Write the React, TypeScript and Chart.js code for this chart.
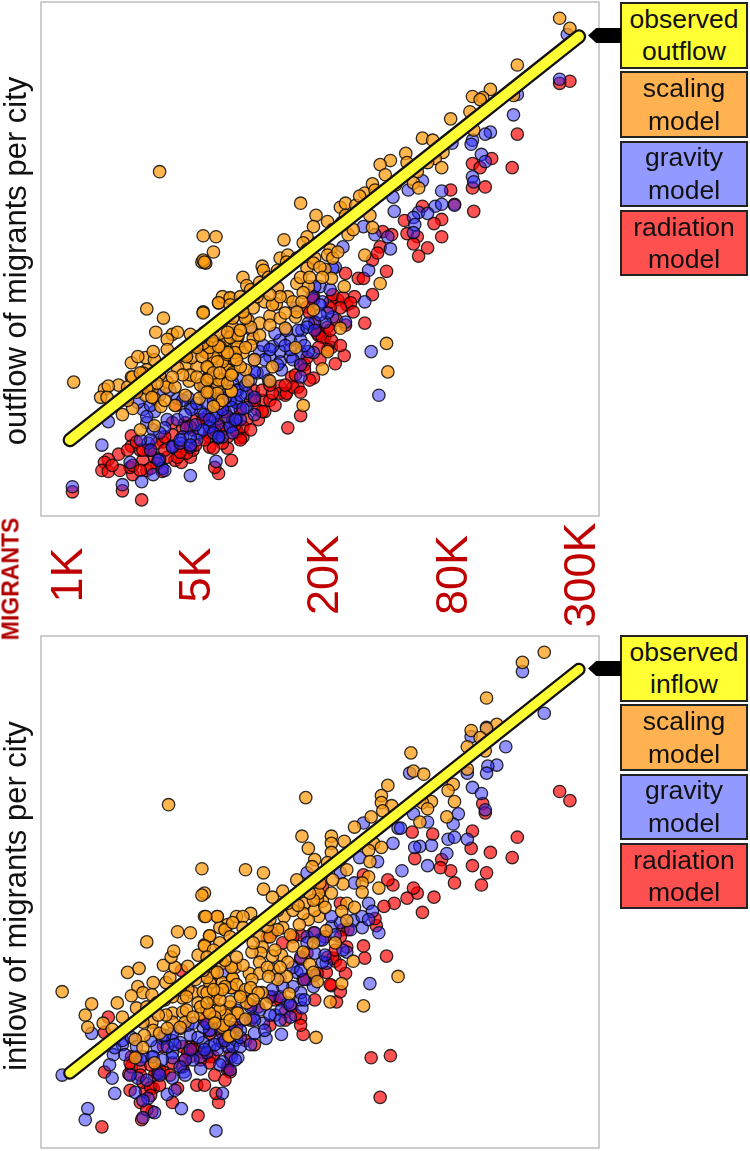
import React, { useEffect, useRef } from "react";
import { Chart, registerables } from "chart.js";

Chart.register(...registerables);

// x and y are read on the chart's own ladder: 100 units = one 4x step of migrants, 0 = the "1K" tick.
const tickValues = [0, 100, 200, 300, 400];
const tickLabels = ["1K", "5K", "20K", "80K", "300K"];
const observedDiagonal = [[3, 3], [400, 400]];

const outflowScaling = [[6,60],[63,132],[76,123],[70,109],[83,107],[87,109],[79,102],[97,107],[107,129],[106,178],[109,177],[119,138],[128,142],[122,144],[51,79],[62,84],[69,82],[68,90],[79,92],[56,85],[51,65],[41,57],[30,53],[33,56],[27,45],[32,45],[63,72],[60,69],[67,52],[79,60],[78,55],[85,55],[62,47],[69,44],[74,36],[52,34],[44,28],[69,17],[58,13],[94,77],[102,75],[98,84],[107,92],[87,74],[96,61],[112,65],[122,63],[129,51],[104,44],[119,39],[118,55],[115,83],[122,82],[122,92],[124,101],[133,95],[126,72],[130,108],[183,236],[195,224],[193,213],[204,218],[214,232],[218,236],[233,246],[239,255],[237,224],[220,205],[224,210],[170,200],[188,203],[185,197],[206,190],[204,185],[167,182],[173,185],[153,174],[154,170],[138,163],[141,155],[188,172],[194,182],[202,171],[207,162],[217,154],[180,157],[189,154],[185,148],[165,153],[173,144],[128,143],[119,138],[155,139],[164,137],[146,133],[193,131],[159,125],[179,124],[167,123],[151,118],[142,121],[171,113],[130,114],[134,104],[124,101],[146,103],[134,95],[122,91],[108,90],[179,94],[214,113],[204,90],[200,73],[250,98],[251,70],[245,157],[233,185],[239,212],[107,204],[117,203],[115,188],[107,180],[108,178],[107,128],[161,75],[159,61],[140,72],[142,61],[129,51],[119,39],[122,62],[112,65],[126,72],[122,80],[138,89],[115,85],[185,37],[73,267],[385,418],[393,408],[352,372],[317,341],[331,348],[325,340],[323,338],[349,342],[315,326],[300,319],[318,308],[278,300],[286,298],[265,285],[294,286],[288,280],[282,276],[293,271],[274,267],[271,256],[275,251],[266,276],[253,278],[245,274],[249,264],[257,254],[241,249],[226,234],[218,224],[229,243],[136,111],[144,96],[151,106],[159,116],[147,82],[132,82],[116,96],[108,101],[101,96],[93,87],[85,85],[77,77],[97,67],[105,57],[112,50],[93,47],[85,37],[77,42],[66,57],[58,54],[69,67],[48,42],
[112,104],[116,98],[120,108],[128,104],[110,89],[118,80],[126,87],[132,89],[134,106],[140,94],[144,114],[140,123],[120,95],[112,94],[107,98],[106,85],[111,74],[119,62],[130,69],[136,75],[161,136],[167,144],[159,146],[149,144],[177,139],[184,139],[180,129],[171,128],[138,129],[130,123],[122,121],[115,114],[108,109],[128,136],[136,144],[144,151],[151,158],[158,163],[165,170],[172,178],[180,182],[188,190],[196,197],[202,202],[208,210],[215,217],[193,177],[198,173],[183,163],[190,163],[200,163],[208,182],[212,188],[94,85],[102,94],[110,75],[115,69],[91,67],[83,65],[73,67],[71,59],[63,54],[67,45],[102,65],[110,62],[126,59],[120,69],[129,67],[133,82],[126,89],[119,95],[114,101],[106,104],[126,109],[136,111],[118,49],[122,42],[115,36],[110,50],[58,59],[55,50],[48,55],[52,65],[58,69],[72,72]];
const outflowGravity = [[28,-2],[5,-43],[44,-41],[59,-38],[97,-32],[33,21],[60,33],[69,31],[79,23],[63,20],[87,44],[97,35],[95,45],[107,59],[105,31],[118,18],[128,16],[133,40],[112,16],[104,10],[94,15],[97,-4],[83,-3],[64,0],[50,-19],[73,-16],[68,-31],[75,-25],[117,-18],[119,5],[136,65],[56,40],[151,90],[159,85],[167,90],[167,80],[149,69],[130,59],[114,59],[133,40],[141,35],[118,30],[112,16],[128,16],[184,111],[175,101],[183,101],[193,89],[179,133],[198,154],[206,151],[208,124],[202,119],[194,119],[189,118],[218,119],[200,139],[233,139],[238,90],[244,47],[236,170],[253,191],[251,203],[255,242],[256,228],[232,213],[241,205],[216,193],[183,65],[210,173],[385,358],[352,343],[349,323],[331,306],[327,304],[317,298],[316,294],[301,295],[324,284],[327,277],[317,262],[318,257],[278,258],[267,249],[293,248],[288,233],[293,235],[303,234],[275,227],[282,226],[271,222],[272,215],[271,207],[391,402],
[63,26],[77,15],[87,23],[98,33],[102,39],[91,42],[110,39],[115,26],[122,33],[129,35],[126,26],[133,23],[107,13],[102,3],[91,6],[83,-4],[89,0],[73,10],[68,13],[66,3],[72,-17],[115,10],[97,6],[122,6],[130,10],[133,52],[108,50],[115,42],[122,42],[111,65],[120,49],[108,55],[128,42],[122,33],[134,52],[141,49],[147,45],[144,62],[154,69],[155,82],[147,82],[161,95],[167,101],[145,111],[154,96],[168,72],[175,85],[183,89],[177,82],[189,90],[194,154],[192,144],[198,136],[204,128],[181,111],[188,114],[208,172],[172,111],[163,108],[136,23],[119,6],[138,34],
[66,37],[73,47],[81,52],[93,28],[101,18],[108,28],[116,52],[124,44],[136,47],[147,70],[158,62],[165,77],[175,92],[186,96],[194,111],[198,126],[183,77],[171,96],[159,92],[140,57],[89,3],[66,-7],[58,3],[77,-27],[97,-2],[112,23],[132,23],[147,28]];
const outflowRadiation = [[59,-56],[5,-48],[44,-47],[119,-30],[129,-17],[116,-24],[126,-5],[112,-4],[41,-11],[33,-16],[30,-19],[28,-27],[33,-28],[51,7],[51,-3],[52,-31],[50,-24],[60,-17],[63,-27],[64,-7],[76,1],[83,8],[93,20],[85,-17],[90,-19],[97,-14],[75,-28],[69,-14],[58,-7],[107,23],[86,37],[112,6],[99,13],[122,25],[136,5],[130,23],[173,15],[183,27],[138,6],[153,42],[171,47],[167,56],[181,55],[176,65],[193,64],[186,77],[210,78],[217,86],[202,105],[207,94],[197,106],[219,136],[225,144],[212,141],[218,167],[233,118],[239,146],[228,162],[232,162],[250,169],[239,180],[245,193],[247,208],[254,205],[243,187],[149,33],[146,52],[193,144],[188,134],[206,139],[196,111],[393,356],[385,354],[352,304],[348,271],[332,280],[317,275],[323,271],[327,252],[317,251],[300,249],[303,235],[318,228],[293,220],[287,216],[278,233],[264,219],[266,206],[274,203],[293,203],[271,196],[282,192],[275,184],
[66,-7],[71,0],[77,6],[83,-4],[71,-20],[79,-14],[52,-22],[55,1],[48,-7],[60,-7],[90,-4],[102,23],[97,16],[91,15],[110,26],[120,16],[126,6],[133,13],[122,0],[115,-5],[99,-7],[94,-10],[87,-14],[83,20],[107,23],[112,10],[122,13],[133,11],[141,23],[136,33],[144,42],[153,52],[159,42],[167,49],[172,49],[177,55],[183,77],[188,84],[196,108],[200,104],[207,101],[194,118],[204,114],[211,121],[190,128],[193,141],[208,146],[216,143],[222,138],[214,133],[206,133],[161,49],[138,16],
[136,3],[144,13],[150,23],[155,31],[163,37],[171,57],[179,67],[186,72],[183,50],[190,62],[198,82],[204,92],[214,96],[218,116],[224,129],[206,111],[197,94],[159,57],[153,31],[132,18],[124,31],[116,13],[108,3],[101,-2],[89,-9],[77,-7],[66,-25],[58,-27],[42,-27],[36,-22],[136,33],[147,42]];

const inflowScaling = [[-3,83],[20,71],[15,60],[17,48],[29,52],[40,72],[48,102],[57,106],[63,132],[87,142],[97,141],[108,157],[118,157],[56,88],[51,79],[44,58],[36,46],[60,82],[68,92],[78,92],[67,80],[81,97],[76,109],[85,107],[82,117],[84,123],[95,108],[103,119],[108,129],[112,138],[124,144],[126,149],[120,146],[133,157],[55,67],[67,53],[68,45],[61,40],[54,36],[73,42],[60,28],[54,18],[69,13],[83,62],[83,53],[91,77],[91,63],[78,60],[99,82],[103,72],[107,83],[113,92],[115,76],[116,67],[105,61],[93,53],[122,52],[125,60],[122,48],[128,39],[129,87],[130,96],[128,68],[122,92],[133,62],[136,80],[187,274],[184,236],[189,224],[251,286],[246,276],[246,269],[254,266],[247,261],[238,255],[225,245],[207,236],[207,229],[217,231],[207,220],[194,213],[192,206],[140,203],[154,200],[106,204],[180,193],[154,184],[169,182],[161,176],[108,180],[106,178],[240,229],[246,225],[236,222],[237,211],[236,196],[231,190],[231,181],[244,185],[216,189],[207,180],[200,172],[196,174],[186,170],[219,170],[225,166],[215,162],[219,153],[203,143],[197,157],[189,154],[182,149],[170,157],[169,146],[175,139],[144,160],[138,157],[118,157],[109,157],[124,144],[112,138],[108,128],[151,137],[153,127],[177,128],[193,131],[210,131],[224,113],[185,122],[168,119],[161,118],[152,121],[145,122],[173,112],[151,112],[190,110],[193,102],[162,105],[143,101],[132,107],[172,98],[165,95],[196,93],[215,91],[151,101],[130,96],[145,95],[129,87],[112,92],[153,82],[174,81],[141,72],[156,71],[115,76],[206,73],[232,69],[259,98],[134,62],[125,60],[140,56],[123,50],[127,39],[195,38],[80,267],[373,417],[356,407],[328,372],[336,346],[328,342],[316,340],[323,333],[313,324],[327,320],[313,302],[269,318],[271,300],[279,297],[302,287],[298,281],[285,270],[278,269],[282,263],[303,270],[297,255],[276,250],
[108,107],[115,102],[122,111],[138,109],[124,88],[110,82],[118,82],[128,73],[120,65],[110,65],[105,68],[133,90],[140,85],[144,87],[150,82],[136,78],[146,75],[116,58],[128,55],[157,107],[167,107],[158,98],[163,124],[146,131],[159,137],[165,144],[157,147],[149,151],[130,151],[138,146],[128,137],[120,131],[115,124],[110,117],[185,160],[194,163],[202,166],[177,163],[165,163],[159,154],[173,170],[181,168],[197,180],[193,173],[208,193],[198,190],[190,180],[183,183],[219,203],[214,213],[204,210],[94,65],[99,58],[112,62],[110,72],[120,75],[122,85],[115,85],[110,97],[118,102],[129,107],[124,114],[118,117],[133,117],[112,111],[107,104],[101,95],[95,85],[89,85],[83,78],[77,75],[71,72],[63,68],[72,60],[79,47],[89,48],[60,53],[94,78],[133,42],[116,52]];
const inflowGravity = [[-3,1],[20,42],[37,21],[36,-2],[38,-17],[17,-32],[15,-43],[117,-54],[90,-32],[79,-18],[69,-36],[54,-16],[64,-22],[83,-2],[56,-2],[60,-24],[60,-41],[44,31],[38,28],[83,23],[67,19],[83,18],[92,4],[105,7],[122,-17],[129,19],[122,14],[107,33],[112,45],[97,40],[103,38],[83,35],[75,37],[133,35],[122,102],[95,50],[134,18],[237,91],[168,41],[156,37],[147,42],[163,60],[184,67],[183,75],[112,45],[128,48],[146,58],[173,72],[193,88],[180,102],[203,111],[219,122],[207,147],[224,153],[231,146],[244,141],[231,157],[236,170],[239,162],[229,215],[243,211],[255,229],[259,244],[232,249],[225,190],[188,200],[214,200],[188,137],[198,134],[183,117],[167,97],[356,398],[373,357],[328,343],[316,334],[343,324],[336,306],[329,305],[328,298],[268,298],[313,298],[317,284],[324,278],[306,258],[302,248],[282,250],[271,258],[261,244],[298,233],[303,235],[285,227],[276,226],[272,225],[313,233],[297,219],[282,207],[262,202],[327,262],
[44,35],[51,38],[55,29],[60,19],[71,29],[79,29],[68,19],[75,16],[89,33],[105,19],[112,29],[120,35],[126,29],[107,48],[99,52],[89,47],[83,42],[130,29],[136,29],[118,26],[110,23],[99,16],[93,16],[89,9],[63,-4],[72,3],[120,11],[128,6],[136,38],[110,52],[120,48],[130,45],[138,55],[154,52],[168,65],[175,58],[183,82],[186,95],[177,88],[167,78],[159,78],[151,65],[200,112],[194,121],[214,151],[207,157],[200,134],[194,141],[188,131],[177,107],[183,104],[169,88],[161,85],[144,68],[133,65],[122,55],[216,124],[236,154],
[34,11],[46,21],[66,35],[77,40],[85,31],[97,26],[116,31],[124,35],[136,45],[147,55],[155,45],[167,55],[175,70],[186,75],[194,99],[202,119],[210,139],[222,144],[73,1],[93,1],[108,26],[132,16],[144,31],[159,60],[58,16],[50,1],[85,-14]];
const inflowRadiation = [[28,-50],[103,-39],[119,-26],[117,-17],[102,-9],[87,-12],[83,-26],[30,4],[49,2],[51,9],[68,-12],[62,-15],[58,-26],[59,-43],[67,-35],[76,4],[71,3],[33,58],[30,43],[90,104],[97,19],[97,29],[76,29],[126,6],[112,19],[51,19],[111,53],[100,28],[185,41],[183,57],[171,63],[163,75],[150,68],[211,73],[207,89],[214,83],[218,101],[210,113],[203,102],[233,116],[232,128],[250,118],[255,188],[251,193],[256,170],[248,167],[242,148],[241,155],[200,186],[232,198],[161,141],[188,95],[183,139],[216,144],[385,280],[393,271],[325,268],[327,259],[317,241],[352,235],[331,220],[348,215],[316,224],[317,207],[328,200],[324,188],[303,190],[300,202],[293,213],[292,205],[286,238],[270,240],[272,214],[287,176],[274,180],[271,185],[266,175],[278,161],[238,18],[253,20],[245,-21],
[50,13],[55,19],[58,9],[69,1],[73,6],[60,-6],[66,-11],[83,13],[91,29],[95,23],[99,26],[107,23],[115,19],[122,33],[126,9],[128,4],[112,13],[91,9],[63,-33],[108,55],[112,42],[122,42],[133,48],[144,55],[161,78],[167,75],[176,68],[185,95],[196,101],[204,117],[208,116],[157,137],[169,131],[177,137],[193,141],[214,170],[220,144],[214,137],[219,127],[202,137],[210,124],[188,121],[183,115],
[58,1],[66,11],[81,1],[93,16],[105,16],[116,1],[128,21],[140,35],[147,31],[159,50],[171,55],[179,60],[183,50],[194,75],[206,90],[214,109],[144,70],[128,45],[50,-14],[66,-19],[73,-9],[108,-9],[124,-4]];

const FONT = "'Liberation Sans', Arial, sans-serif";
const pts = (a: number[][]) => a.map(([x, y]) => ({ x, y }));

const marks = (data: number[][], fill: string) => ({
  type: "scatter" as const,
  data: pts(data),
  backgroundColor: fill,
  borderColor: "rgba(10,10,10,0.85)",
  borderWidth: 1.3,
  pointRadius: 6.2,
});

type PanelProps = {
  top: number; height: number; padTop: number; padBottom: number; yMin: number; yMax: number; titleY: number; lineWidth: number;
  title: string; scaling: number[][]; gravity: number[][]; radiation: number[][]; showTicks: boolean;
};

function Panel(p: PanelProps) {
  const ref = useRef<HTMLCanvasElement>(null);
  useEffect(() => {
    const frame = {
      id: "frame",
      beforeDraw(c: any) {
        const { ctx, chartArea: a } = c;
        ctx.save();
        ctx.strokeStyle = "#bdbdbd";
        ctx.lineWidth = 1.5;
        ctx.strokeRect(a.left, a.top, a.right - a.left, a.bottom - a.top);
        ctx.restore();
      },
      afterDraw(c: any) {
        const { ctx, scales } = c;
        ctx.save();
        ctx.fillStyle = "#111";
        ctx.font = `31px ${FONT}`;
        ctx.textAlign = "center";
        ctx.textBaseline = "alphabetic";
        ctx.save();
        ctx.translate(26, p.titleY);
        ctx.rotate(-Math.PI / 2);
        ctx.fillText(p.title, 0, 0);
        ctx.restore();
        if (p.showTicks) {
          ctx.fillStyle = "#c00000";
          ctx.font = `45px ${FONT}`;
          tickValues.forEach((v, i) => {
            ctx.save();
            ctx.translate(scales.x.getPixelForValue(v) + 16, 575);
            ctx.rotate(-Math.PI / 2);
            ctx.fillText(tickLabels[i], 0, 0);
            ctx.restore();
          });
        }
        ctx.restore();
      },
    };
    const chart = new Chart(ref.current!, {
      type: "scatter",
      data: {
        datasets: [
          { type: "line", data: pts(observedDiagonal), borderColor: "#ffff33", borderWidth: p.lineWidth, borderCapStyle: "round", pointRadius: 0 } as any,
          { type: "line", data: pts(observedDiagonal), borderColor: "#111111", borderWidth: p.lineWidth + 4.5, borderCapStyle: "round", pointRadius: 0 } as any,
          marks(p.scaling, "rgba(255,158,20,0.75)"),
          marks(p.gravity, "rgba(40,40,255,0.5)"),
          marks(p.radiation, "rgba(255,0,0,0.68)"),
        ],
      },
      options: {
        responsive: false,
        animation: false,
        layout: { autoPadding: false, padding: { top: p.padTop, bottom: p.padBottom, left: 41, right: 151 } },
        plugins: { legend: { display: false }, tooltip: { enabled: false } },
        scales: {
          x: { type: "linear", display: false, min: -19.5, max: 415.7 },
          y: { type: "linear", display: false, min: p.yMin, max: p.yMax },
        },
      },
      plugins: [frame],
    } as any);
    return () => chart.destroy();
  }, []);
  return <canvas ref={ref} width={750} height={p.height} style={{ position: "absolute", left: 0, top: p.top, width: 750, height: p.height }} />;
}

const boxStyle = (top: number, height: number, bg: string): React.CSSProperties => ({
  position: "absolute", left: 620, top, width: 128, height, boxSizing: "border-box", background: bg,
  border: "2px solid #222", fontFamily: FONT, fontSize: 26.5, lineHeight: "32.5px", color: "#111",
  textAlign: "center", display: "flex", alignItems: "center", justifyContent: "center",
});

function Legend({ top, word }: { top: number; word: string }) {
  const items: [string, string, string][] = [
    ["observed", word, "#ffff33"],
    ["scaling", "model", "#ffb24f"],
    ["gravity", "model", "#9299ff"],
    ["radiation", "model", "#ff5050"],
  ];
  return (
    <>
      {items.map(([a, b, c], i) => (
        <div key={a} style={boxStyle(top + i * 69.3, 66.5, c)}>
          <span>{a}<br />{b}</span>
        </div>
      ))}
      <div style={{ position: "absolute", left: 588, top: top + 26, width: 33, height: 15, background: "#000", clipPath: "polygon(0 50%, 25% 0, 100% 0, 100% 100%, 25% 100%)" }} />
    </>
  );
}

export default function App() {
  return (
    <div style={{ position: "absolute", left: 0, top: 0, width: 750, height: 1151, background: "#fff", overflow: "hidden" }}>
      <Panel top={0} height={632} padTop={2} padBottom={116} yMin={-71.8} yMax={434} titleY={261} lineWidth={10} title="outflow of migrants per city" scaling={outflowScaling} gravity={outflowGravity} radiation={outflowRadiation} showTicks />
      <Panel top={632} height={519} padTop={4} padBottom={3} yMin={-70.8} yMax={433} titleY={264} lineWidth={9} title="inflow of migrants per city" scaling={inflowScaling} gravity={inflowGravity} radiation={inflowRadiation} showTicks={false} />
      <Legend top={2} word="outflow" />
      <Legend top={635} word="inflow" />
      <div style={{ position: "absolute", left: 11, top: 579, width: 0, height: 0 }}>
        <div style={{ position: "absolute", transform: "translate(-50%,-50%) rotate(-90deg)", whiteSpace: "nowrap", color: "#b00000", fontFamily: FONT, fontWeight: 700, fontSize: 23 }}>MIGRANTS</div>
      </div>
    </div>
  );
}
